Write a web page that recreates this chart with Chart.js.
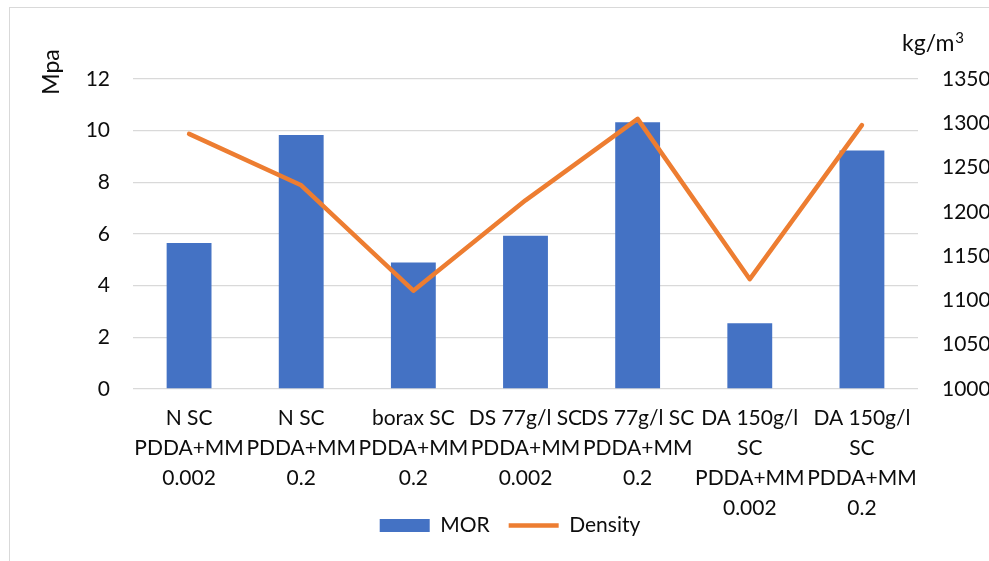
<!DOCTYPE html>
<html>
<head>
<meta charset="utf-8">
<script src="https://cdn.jsdelivr.net/npm/chart.js@4.4.1/dist/chart.umd.min.js"></script>
<style>
html,body{margin:0;padding:0;background:#fff;}
#wrap{width:989px;height:561px;position:relative;}
</style>
</head>
<body>
<div id="wrap"><canvas id="c" width="989" height="561"></canvas></div>
<script>
const categories = [
  ["N SC","PDDA+MM","0.002"],
  ["N SC","PDDA+MM","0.2"],
  ["borax SC","PDDA+MM","0.2"],
  ["DS 77g/l SC","PDDA+MM","0.002"],
  ["DS 77g/l SC","PDDA+MM","0.2"],
  ["DA 150g/l","SC","PDDA+MM","0.002"],
  ["DA 150g/l","SC","PDDA+MM","0.2"]
];
const morValues = [5.65, 9.83, 4.9, 5.93, 10.33, 2.55, 9.23];
const densityValues = [1288, 1230, 1111, 1213, 1305, 1124, 1298];
const leftTitle = "Mpa";
const rightTitleBase = "kg/m";
const rightTitleSup = "3";

const FONT = "Lato";
const TXT = "#0d0d0d";

const decor = {
  id: 'decor',
  afterLayout(chart) {
    // let the multi-line category labels extend over the legend band
    chart.scales.x.bottom = chart.height;
  },
  beforeDraw(chart) {
    const ctx = chart.ctx;
    ctx.save();
    ctx.fillStyle = '#fff';
    ctx.fillRect(0, 0, chart.width, chart.height);
    ctx.strokeStyle = '#d9d9d9';
    ctx.lineWidth = 1;
    ctx.strokeRect(9.5, 7.5, 1100, 700);
    ctx.restore();
  },
  afterDraw(chart) {
    const ctx = chart.ctx;
    ctx.save();
    ctx.fillStyle = TXT;
    ctx.font = "23px " + FONT;
    ctx.textAlign = 'center';
    ctx.textBaseline = 'middle';
    ctx.translate(52, 72);
    ctx.rotate(-Math.PI / 2);
    ctx.fillText(leftTitle, 0, 0);
    ctx.restore();
    ctx.save();
    ctx.fillStyle = TXT;
    ctx.font = "23px " + FONT;
    ctx.textAlign = 'left';
    ctx.textBaseline = 'alphabetic';
    ctx.fillText(rightTitleBase, 902, 51);
    const w = ctx.measureText(rightTitleBase).width;
    ctx.font = "15px " + FONT;
    ctx.fillText(rightTitleSup, 902 + w + 1, 43);
    ctx.restore();
  }
};

new Chart(document.getElementById('c'), {
  type: 'bar',
  data: {
    labels: categories,
    datasets: [
      {
        label: 'MOR',
        data: morValues,
        backgroundColor: '#4472C4',
        borderWidth: 0,
        yAxisID: 'y',
        order: 2,
        categoryPercentage: 1.0,
        barPercentage: 0.4,
        pointStyle: 'rect'
      },
      {
        type: 'line',
        label: 'Density',
        data: densityValues,
        borderColor: '#ED7D31',
        backgroundColor: '#ED7D31',
        borderWidth: 4.5,
        borderCapStyle: 'round',
        borderJoinStyle: 'round',
        pointRadius: 0,
        pointHoverRadius: 0,
        tension: 0,
        fill: false,
        yAxisID: 'y1',
        order: 1,
        pointStyle: 'line'
      }
    ]
  },
  options: {
    responsive: false,
    animation: false,
    devicePixelRatio: 1,
    layout: { padding: { top: 79, left: 31, right: 0, bottom: 15 } },
    plugins: {
      tooltip: { enabled: false },
      legend: {
        position: 'bottom',
        labels: {
          usePointStyle: true,
          pointStyleWidth: 50,
          boxHeight: 13,
          padding: 19,
          color: TXT,
          font: { family: FONT, size: 21 },
          sort: (a, b) => a.datasetIndex - b.datasetIndex
        }
      }
    },
    scales: {
      x: {
        grid: { display: false, drawTicks: false },
        border: { display: false },
        ticks: {
          color: TXT,
          font: { family: FONT, size: 21, lineHeight: 30 / 21 },
          padding: 14,
          maxRotation: 0,
          minRotation: 0,
          autoSkip: false
        },
        afterFit(scale) { scale.height = 107; }
      },
      y: {
        position: 'left',
        min: 0,
        max: 12,
        ticks: {
          stepSize: 2,
          color: TXT,
          font: { family: FONT, size: 21 },
          padding: 23
        },
        grid: { color: '#d9d9d9', lineWidth: 1.3, drawTicks: false },
        border: { display: false },
        afterFit(scale) { scale.width = 102; }
      },
      y1: {
        position: 'right',
        min: 1000,
        max: 1350,
        ticks: {
          stepSize: 50,
          color: TXT,
          font: { family: FONT, size: 21 },
          padding: 24,
          callback: (v) => String(v)
        },
        grid: { drawOnChartArea: false, drawTicks: false },
        border: { display: false },
        afterFit(scale) { scale.width = 71; }
      }
    }
  },
  plugins: [decor]
});
</script>
</body>
</html>
